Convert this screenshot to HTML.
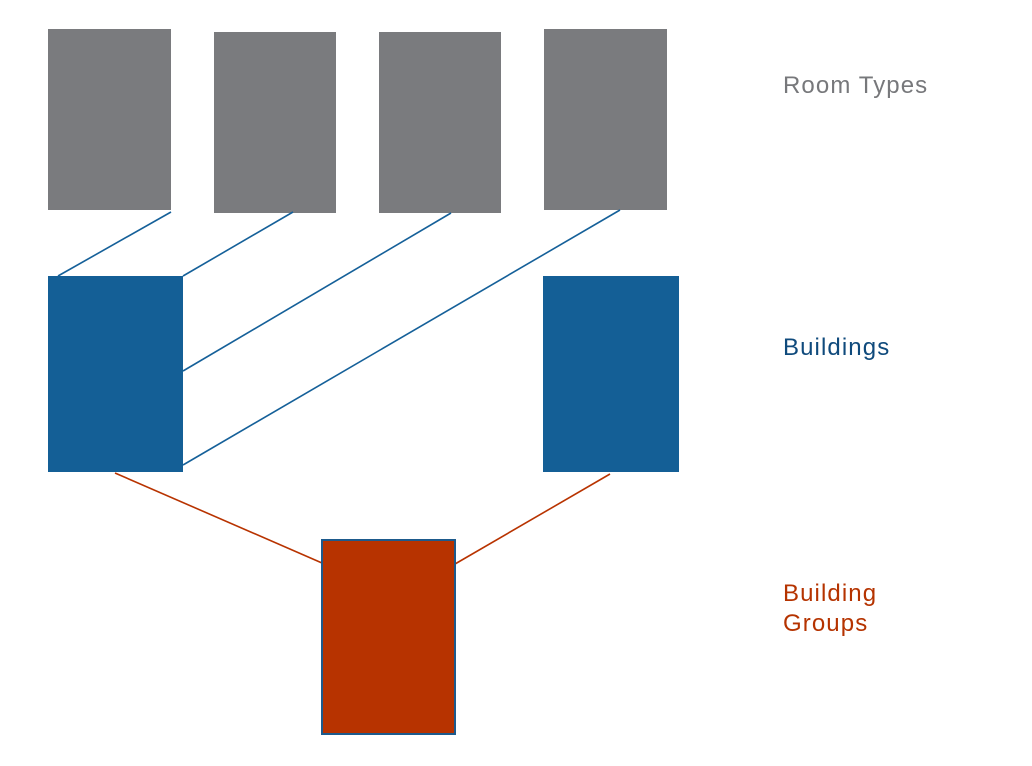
<!DOCTYPE html>
<html><head><style>
body{margin:0;width:1032px;height:766px;background:#fff;overflow:hidden;position:relative;font-family:"Liberation Sans",sans-serif}
.t{position:absolute;font-size:24px;line-height:30px;letter-spacing:1.1px}
</style></head><body>
<svg width="1032" height="766" style="position:absolute;left:0;top:0">
<rect x="48" y="29" width="123" height="181" fill="#7a7b7e"/>
<rect x="214" y="32" width="122" height="181" fill="#7a7b7e"/>
<rect x="379" y="32" width="122" height="181" fill="#7a7b7e"/>
<rect x="544" y="29" width="123" height="181" fill="#7a7b7e"/>
<g stroke="#156099" stroke-width="1.6">
<line x1="171" y1="212" x2="58" y2="276"/>
<line x1="293" y1="212" x2="183" y2="276"/>
<line x1="451" y1="213" x2="183" y2="371"/>
<line x1="620" y1="210" x2="183" y2="465"/>
</g>
<g stroke="#b83300" stroke-width="1.6">
<line x1="115" y1="473" x2="322" y2="563"/>
<line x1="610" y1="474" x2="455" y2="564"/>
</g>
<rect x="48" y="276" width="135" height="196" fill="#145f96"/>
<rect x="543" y="276" width="136" height="196" fill="#145f96"/>
<rect x="322" y="540" width="133" height="194" fill="#b73300" stroke="#1d5a8c" stroke-width="2"/>
</svg>
<div class="t" style="left:783px;top:71px;color:#77787b">Room Types</div>
<div class="t" style="left:783px;top:333px;color:#0f4a7c">Buildings</div>
<div class="t" style="left:783px;top:579px;color:#b53300">Building<br>Groups</div>
</body></html>
